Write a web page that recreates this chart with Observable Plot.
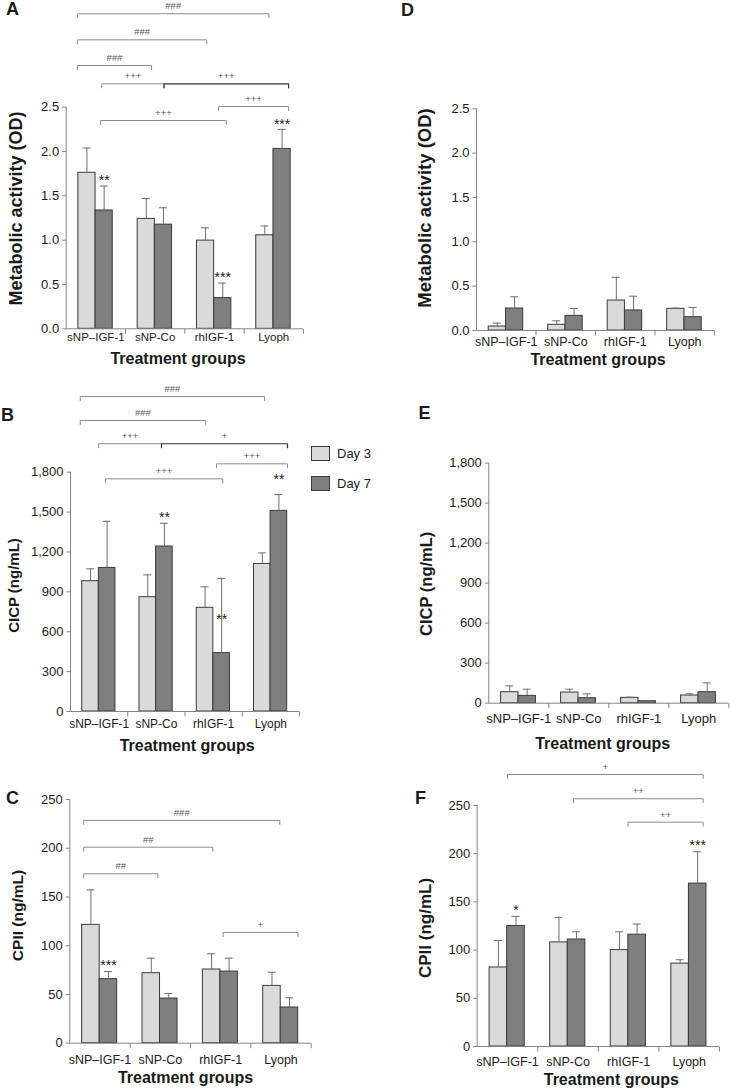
<!DOCTYPE html>
<html>
<head>
<meta charset="utf-8">
<script src="https://cdn.jsdelivr.net/npm/d3@7"></script>
<script src="https://cdn.jsdelivr.net/npm/@observablehq/plot@0.6"></script>
<style>
  html, body { margin: 0; padding: 0; background: #fff; }
  #root { position: relative; width: 730px; height: 1088px; overflow: hidden; font-family: "Liberation Sans", Arial, Helvetica, sans-serif; color: #1a1a1a; }
  .lg-sw { position: absolute; width: 19px; height: 15px; box-sizing: border-box; border: 1px solid #3a3a3a; }
  .lg-tx { position: absolute; font-size: 13px; line-height: 15px; }
</style>
</head>
<body>
<div id="root"></div>
<script>
// ---------- data ----------
const groups = ["sNP–IGF-1", "sNP-Co", "rhIGF-1", "Lyoph"];
const days = ["Day 3", "Day 7"];
const dayColors = ["#dadada", "#7f7f7f"];

const metabolicTicks = [0, 0.5, 1, 1.5, 2, 2.5];
const cicpTicks = [0, 300, 600, 900, 1200, 1500, 1800];
const cpiiTicks = [0, 50, 100, 150, 200, 250];

// A – metabolic activity (OD)
const aDay3 = [1.76, 1.24, 0.995, 1.055];
const aDay3Sd = [0.28, 0.23, 0.145, 0.105];
const aDay7 = [1.335, 1.175, 0.346, 2.03];
const aDay7Sd = [0.275, 0.19, 0.17, 0.22];
// B – CICP (ng/mL)
const bDay3 = [980, 860, 780, 1110];
const bDay3Sd = [93, 168, 158, 83];
const bDay7 = [1080, 1241, 439, 1509];
const bDay7Sd = [351, 175, 562, 123];
// C – CPII (ng/mL)
const cDay3 = [121.4, 71.8, 75.6, 58.8];
const cDay3Sd = [35.9, 15.4, 16.1, 14.0];
const cDay7 = [65.7, 45.8, 73.5, 36.6];
const cDay7Sd = [7.8, 5.2, 13.7, 9.9];
// D – metabolic activity (OD)
const dDay3 = [0.045, 0.064, 0.338, 0.244];
const dDay3Sd = [0.038, 0.045, 0.262, 0.008];
const dDay7 = [0.248, 0.165, 0.226, 0.15];
const dDay7Sd = [0.132, 0.083, 0.161, 0.11];
// E – CICP (ng/mL)
const eDay3 = [82.5, 80, 40, 57.5];
const eDay3Sd = [47.5, 25, 5, 12.5];
const eDay7 = [55, 37.5, 15, 82.5];
const eDay7Sd = [50, 32.5, 2.5, 70];
// F – CPII (ng/mL)
const fDay3 = [82, 108, 100, 86];
const fDay3Sd = [28, 26, 19, 4];
const fDay7 = [125, 111, 116, 169];
const fDay7Sd = [10, 8, 11, 33];

// significance annotations (comparison brackets and asterisks)
const aBrackets = [
  {from: "sNP–IGF-1", fromAt: 0.19, to: "Lyoph", toAt: 0.42, y: 3.554, label: "###"},
  {from: "sNP–IGF-1", fromAt: 0.19, to: "rhIGF-1", toAt: 0.37, y: 3.26, label: "###"},
  {from: "sNP–IGF-1", fromAt: 0.19, to: "sNP-Co", toAt: 0.44, y: 2.97, label: "###"},
  {from: "sNP–IGF-1", fromAt: 0.60, to: "sNP-Co", toAt: 0.65, y: 2.764, label: "+++"},
  {from: "sNP-Co", fromAt: 0.65, to: "Lyoph", toAt: 0.75, y: 2.764, label: "+++", dark: true},
  {from: "rhIGF-1", fromAt: 0.57, to: "Lyoph", toAt: 0.75, y: 2.508, label: "+++"},
  {from: "sNP–IGF-1", fromAt: 0.58, to: "rhIGF-1", toAt: 0.70, y: 2.35, label: "+++"}
];
const aStars = [
  {group: "sNP–IGF-1", day: "Day 7", y: 1.71, label: "**"},
  {group: "rhIGF-1", day: "Day 7", y: 0.62, label: "***"},
  {group: "Lyoph", day: "Day 7", y: 2.339, label: "***"}
];
const bBrackets = [
  {from: "sNP–IGF-1", fromAt: 0.17, to: "Lyoph", toAt: 0.39, y: 2369, label: "###"},
  {from: "sNP–IGF-1", fromAt: 0.17, to: "rhIGF-1", toAt: 0.36, y: 2189, label: "###"},
  {from: "sNP–IGF-1", fromAt: 0.49, to: "sNP-Co", toAt: 0.59, y: 2014, label: "+++"},
  {from: "sNP-Co", fromAt: 0.59, to: "Lyoph", toAt: 0.79, y: 2014, label: "+", dark: true},
  {from: "rhIGF-1", fromAt: 0.55, to: "Lyoph", toAt: 0.79, y: 1863, label: "+++"},
  {from: "sNP–IGF-1", fromAt: 0.61, to: "rhIGF-1", toAt: 0.66, y: 1750, label: "+++"}
];
const bStars = [
  {group: "sNP-Co", day: "Day 7", y: 1482, label: "**"},
  {group: "rhIGF-1", day: "Day 7", y: 715, label: "**"},
  {group: "Lyoph", day: "Day 7", y: 1768, label: "**"}
];
const cBrackets = [
  {from: "sNP–IGF-1", fromAt: 0.23, to: "Lyoph", toAt: 0.48, y: 228.5, label: "###"},
  {from: "sNP–IGF-1", fromAt: 0.23, to: "rhIGF-1", toAt: 0.37, y: 201.1, label: "##"},
  {from: "sNP–IGF-1", fromAt: 0.23, to: "sNP-Co", toAt: 0.46, y: 173.8, label: "##"},
  {from: "rhIGF-1", fromAt: 0.54, to: "Lyoph", toAt: 0.78, y: 113.6, label: "+"}
];
const cStars = [
  {group: "sNP–IGF-1", day: "Day 7", y: 83.1, label: "***"}
];
const fBrackets = [
  {from: "sNP–IGF-1", fromAt: 0.50, to: "Lyoph", toAt: 0.73, y: 282.2, label: "+"},
  {from: "sNP-Co", fromAt: 0.59, to: "Lyoph", toAt: 0.73, y: 257, label: "++"},
  {from: "rhIGF-1", fromAt: 0.49, to: "Lyoph", toAt: 0.73, y: 232.7, label: "++"}
];
const fStars = [
  {group: "sNP–IGF-1", day: "Day 7", y: 144.5, label: "*"},
  {group: "Lyoph", day: "Day 7", y: 211.9, label: "***"}
];

// ---------- drawing ----------
const root = document.getElementById("root");
const FONT = "'Liberation Sans', Arial, Helvetica, sans-serif";

function panel(cfg) {
  const [left, top, width, height] = cfg.box;
  const {x0, x1, y0, yTop} = cfg.frame;
  const ticks = cfg.ticks;
  const ymax = ticks[ticks.length - 1];
  const n = groups.length;
  const catW = (x1 - x0) / n;
  const ppu = (y0 - yTop) / ymax;
  const idx = g => groups.indexOf(g);
  const rows = groups.flatMap((g, i) => [
    {group: g, day: days[0], mean: cfg.day3[i], sd: cfg.day3Sd[i], xa: i + 0.205, xb: i + 0.495},
    {group: g, day: days[1], mean: cfg.day7[i], sd: cfg.day7Sd[i], xa: i + 0.495, xb: i + 0.785}
  ]);
  const xc = r => (r.xa + r.xb) / 2;
  const barCenter = (g, day) => idx(g) + (day === days[0] ? 0.35 : 0.64);
  const capHalf = 4 / catW;
  const drop = 4 / ppu;
  const br = (cfg.brackets || []).map((b, k) => ({...b, k, xa: idx(b.from) + b.fromAt, xb: idx(b.to) + b.toAt}));
  const path = b => [[b.xa, b.y - drop], [b.xa, b.y], [b.xb, b.y], [b.xb, b.y - drop]].map(([x, y]) => ({k: b.k, x, y}));
  const lightPts = br.filter(b => !b.dark).flatMap(path);
  const darkPts = br.filter(b => b.dark).flatMap(path);
  const midX = (x0 + x1) / 2, midY = (yTop + y0) / 2;
  const axisColor = "#858585";

  const svg = Plot.plot({
    width, height,
    marginLeft: x0 - left, marginRight: left + width - x1,
    marginTop: yTop - top, marginBottom: top + height - y0,
    x: {domain: [0, n], axis: null},
    y: {domain: [0, ymax], axis: null},
    color: {domain: days, range: dayColors},
    style: {fontFamily: FONT, background: "transparent", overflow: "visible", color: "#1a1a1a"},
    marks: [
      // brackets
      Plot.line(lightPts, {x: "x", y: "y", z: "k", stroke: "#8a8a8a", strokeWidth: 1}),
      Plot.line(darkPts, {x: "x", y: "y", z: "k", stroke: "#333", strokeWidth: 1.2}),
      Plot.text(br, {x: b => (b.xa + b.xb) / 2, y: "y", text: "label", dy: -7.5, fontSize: 9.5, fill: "#555"}),
      // bars
      Plot.rect(rows, {x1: "xa", x2: "xb", y1: 0, y2: "mean", fill: "day", stroke: "#3a3a3a", strokeWidth: 1}),
      // error bars (upper)
      Plot.ruleX(rows, {x: xc, y1: "mean", y2: r => r.mean + r.sd, stroke: "#6e6e6e", strokeWidth: 1}),
      Plot.ruleY(rows, {y: r => r.mean + r.sd, x1: r => xc(r) - capHalf, x2: r => xc(r) + capHalf, stroke: "#6e6e6e", strokeWidth: 1}),
      // asterisks
      Plot.text(cfg.stars || [], {x: s => barCenter(s.group, s.day), y: "y", text: "label", dy: 3.5, fontSize: 14}),
      // axes lines
      Plot.ruleX([0], {y1: 0, y2: ymax, stroke: axisColor}),
      Plot.ruleY([0], {x1: 0, x2: n, stroke: axisColor}),
      // y ticks + labels
      Plot.link(ticks, {x1: 0, x2: -4 / catW, y1: d => d, y2: d => d, stroke: axisColor}),
      Plot.text(ticks, {x: 0, y: d => d, text: cfg.fmt, textAnchor: "end", lineAnchor: "middle", dx: -7, fontSize: 13}),
      // x ticks (group boundaries) + group labels
      Plot.link(d3.range(1, n + 1), {x1: d => d, x2: d => d, y1: 0, y2: -5 / ppu, stroke: axisColor}),
      Plot.text(groups, {x: (g, i) => i + 0.5, y: 0, text: d => d, lineAnchor: "middle", dy: cfg.catY - y0, fontSize: cfg.catSize}),
      // axis titles
      Plot.text(["Treatment groups"], {frameAnchor: "bottom", textAnchor: "middle", lineAnchor: "middle", dx: cfg.titleX - midX, dy: cfg.titleY - y0, fontSize: 16, fontWeight: "bold"}),
      Plot.text([cfg.ylabel], {frameAnchor: "left", textAnchor: "middle", lineAnchor: "middle", rotate: -90, dx: cfg.ylabX - x0, dy: cfg.ylabY - midY, fontSize: cfg.ylabSize, fontWeight: "bold"}),
      // panel letter
      Plot.text([cfg.letter], {frameAnchor: "top-left", textAnchor: "middle", lineAnchor: "middle", dx: cfg.letX - x0, dy: cfg.letY - yTop, fontSize: 18, fontWeight: "bold"})
    ]
  });
  svg.style.position = "absolute";
  svg.style.left = left + "px";
  svg.style.top = top + "px";
  root.appendChild(svg);
}

const fmtMet = d3.format(".1f");
const fmtCicp = d3.format(",");
const fmtCpii = d3.format("d");

panel({letter: "A", box: [0, 0, 315, 372], frame: {x0: 65.7, x1: 302.9, y0: 328.3, yTop: 106.7},
  ticks: metabolicTicks, fmt: fmtMet, day3: aDay3, day3Sd: aDay3Sd, day7: aDay7, day7Sd: aDay7Sd,
  brackets: aBrackets, stars: aStars, catY: 337, catSize: 11.5, titleX: 177.5, titleY: 358,
  ylabel: "Metabolic activity (OD)", ylabX: 16, ylabY: 208, ylabSize: 18, letX: 12, letY: 9});

panel({letter: "B", box: [0, 372, 315, 378], frame: {x0: 70, x1: 299, y0: 711, yTop: 471.7},
  ticks: cicpTicks, fmt: fmtCicp, day3: bDay3, day3Sd: bDay3Sd, day7: bDay7, day7Sd: bDay7Sd,
  brackets: bBrackets, stars: bStars, catY: 724, catSize: 12, titleX: 186.7, titleY: 745,
  ylabel: "CICP (ng/mL)", ylabX: 14, ylabY: 585, ylabSize: 15, letX: 7, letY: 415});

panel({letter: "C", box: [0, 750, 315, 338], frame: {x0: 69.3, x1: 310.7, y0: 1042.7, yTop: 799},
  ticks: cpiiTicks, fmt: fmtCpii, day3: cDay3, day3Sd: cDay3Sd, day7: cDay7, day7Sd: cDay7Sd,
  brackets: cBrackets, stars: cStars, catY: 1059, catSize: 12.5, titleX: 185, titleY: 1077.5,
  ylabel: "CPII (ng/mL)", ylabX: 17.5, ylabY: 915, ylabSize: 15.5, letX: 12, letY: 798});

panel({letter: "D", box: [380, 0, 350, 372], frame: {x0: 476, x1: 714, y0: 330, yTop: 108.3},
  ticks: metabolicTicks, fmt: fmtMet, day3: dDay3, day3Sd: dDay3Sd, day7: dDay7, day7Sd: dDay7Sd,
  brackets: [], stars: [], catY: 341, catSize: 12.5, titleX: 597.5, titleY: 359,
  ylabel: "Metabolic activity (OD)", ylabX: 425, ylabY: 207.5, ylabSize: 18.5, letX: 407, letY: 10});

panel({letter: "E", box: [380, 372, 350, 378], frame: {x0: 488.3, x1: 728.3, y0: 702.7, yTop: 462.7},
  ticks: cicpTicks, fmt: fmtCicp, day3: eDay3, day3Sd: eDay3Sd, day7: eDay7, day7Sd: eDay7Sd,
  brackets: [], stars: [], catY: 718.3, catSize: 13, titleX: 602.2, titleY: 743,
  ylabel: "CICP (ng/mL)", ylabX: 426.5, ylabY: 583.3, ylabSize: 16.5, letX: 424, letY: 413});

panel({letter: "F", box: [380, 750, 350, 338], frame: {x0: 476.7, x1: 719, y0: 1046, yTop: 805},
  ticks: cpiiTicks, fmt: fmtCpii, day3: fDay3, day3Sd: fDay3Sd, day7: fDay7, day7Sd: fDay7Sd,
  brackets: fBrackets, stars: fStars, catY: 1061, catSize: 12.5, titleX: 610.8, titleY: 1079,
  ylabel: "CPII (ng/mL)", ylabX: 425, ylabY: 927.5, ylabSize: 17, letX: 420, letY: 797.5});

// legend
days.forEach((d, i) => {
  const sw = document.createElement("div");
  sw.className = "lg-sw";
  sw.style.left = "311px";
  sw.style.top = (446 + i * 30) + "px";
  sw.style.background = dayColors[i];
  root.appendChild(sw);
  const tx = document.createElement("div");
  tx.className = "lg-tx";
  tx.style.left = "337px";
  tx.style.top = (446 + i * 30) + "px";
  tx.textContent = d;
  root.appendChild(tx);
});
</script>
</body>
</html>
